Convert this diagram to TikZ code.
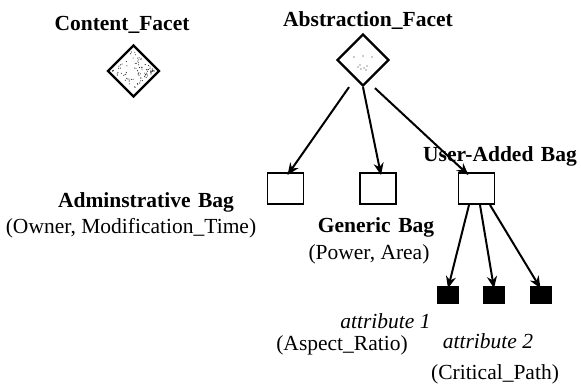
\documentclass[tikz,border=0pt]{standalone}
\usepackage{fontspec}
\setmainfont{Liberation Serif}
\usetikzlibrary{shapes.geometric,arrows.meta}
\begin{document}
\begin{tikzpicture}[x=1pt,y=-1pt,
  lbl/.style={font=\fontsize{21.5}{24}\selectfont\bfseries, inner sep=0, anchor=base},
  txt/.style={font=\fontsize{21.5}{24}\selectfont, inner sep=0, anchor=base},
  itl/.style={font=\fontsize{21.5}{24}\selectfont\itshape, inner sep=0, anchor=base},
  facet/.style={diamond, draw, line width=2.3pt, minimum width=52pt, minimum height=52pt, inner sep=0, aspect=1},
  bag/.style={rectangle, draw, line width=1.9pt, minimum width=36pt, minimum height=31pt, inner sep=0},
  attrbox/.style={rectangle, fill=black, draw=black, minimum width=21pt, minimum height=17pt, inner sep=0},
  conn/.style={line width=2pt, -{Stealth[length=12pt,width=10pt]}},
  stip/.style={fill=black!85}
]
\useasboundingbox (0,0) rectangle (581,386);

% facets
\node[facet] (cd) at (133.5,71) {};
\node[facet] (ad) at (363,60) {};
\node[lbl] (ct) at (122,30) {Content\_Facet};
\node[lbl] (at) at (368,26) {Abstraction\_Facet};

% stipple dots
\pgfmathsetseed{11}
\foreach \i in {1,...,90}{
  \pgfmathsetmacro\dx{rand*21}
  \pgfmathsetmacro\dy{rand*(21-abs(\dx))}
  \fill[stip, shift={(cd.center)}] (\dx,\dy) circle (0.55pt);
}
\foreach \p in {(-9,-3),(0,-4),(9,-3),(-5,7),(-2,9),(1,8),(4,6),(-3,5),(3,10)}{
  \fill[stip, shift={(ad.center)}] \p circle (0.55pt);
}

% bags
\node[bag] (b1) at (285.5,188.5) {};
\node[bag] (b2) at (378,188.5) {};
\node[bag] (b3) at (476.5,188.5) {};

\node[lbl] (b1t) at (146,207) {Adminstrative\hspace{0.35em}Bag};
\node[txt] (b1p) at (131,233) {(Owner, Modification\_Time)};
\node[lbl] (b2t) at (376,232) {Generic\hspace{0.35em}Bag};
\node[txt] (b2p) at (369,259) {(Power, Area)};
\node[lbl] (b3t) at (500,161) {User-Added\hspace{0.35em}Bag};

% attributes
\node[attrbox] (a1) at (448,295) {};
\node[attrbox] (a2) at (494,295) {};
\node[attrbox] (a3) at (540.5,295) {};

\node[itl] (a1t) at (385.5,328) {attribute 1};
\node[txt] (a1p) at (342,350) {(Aspect\_Ratio)};
\node[itl] (a2t) at (488,348) {attribute 2};
\node[txt] (a2p) at (495,379) {(Critical\_Path)};

% connector start points
\coordinate (s1) at ([xshift=-14pt,yshift=0pt]ad.south);
\coordinate (s2) at (ad.south);
\coordinate (s3) at ([xshift=12pt,yshift=-1pt]ad.south);
\coordinate (e1) at ([xshift=2pt,yshift=-3pt]b1.north);
\coordinate (e2) at ([xshift=3pt,yshift=-3pt]b2.north);
\coordinate (e3) at ([xshift=-8pt,yshift=-3pt]b3.north);

\draw[conn] (s1) -- (e1);
\draw[conn] (s2) -- (e2);
\draw[conn] (s3) -- (e3);

\coordinate (u1) at ([xshift=-7.5pt]b3.south);
\coordinate (u2) at ([xshift=3.5pt]b3.south);
\coordinate (u3) at ([xshift=13.5pt]b3.south);
\draw[conn] (u1) -- ([yshift=-2pt]a1.north);
\draw[conn] (u2) -- ([yshift=-2pt]a2.north);
\draw[conn] (u3) -- ([yshift=-2pt]a3.north);
\end{tikzpicture}
\end{document}
